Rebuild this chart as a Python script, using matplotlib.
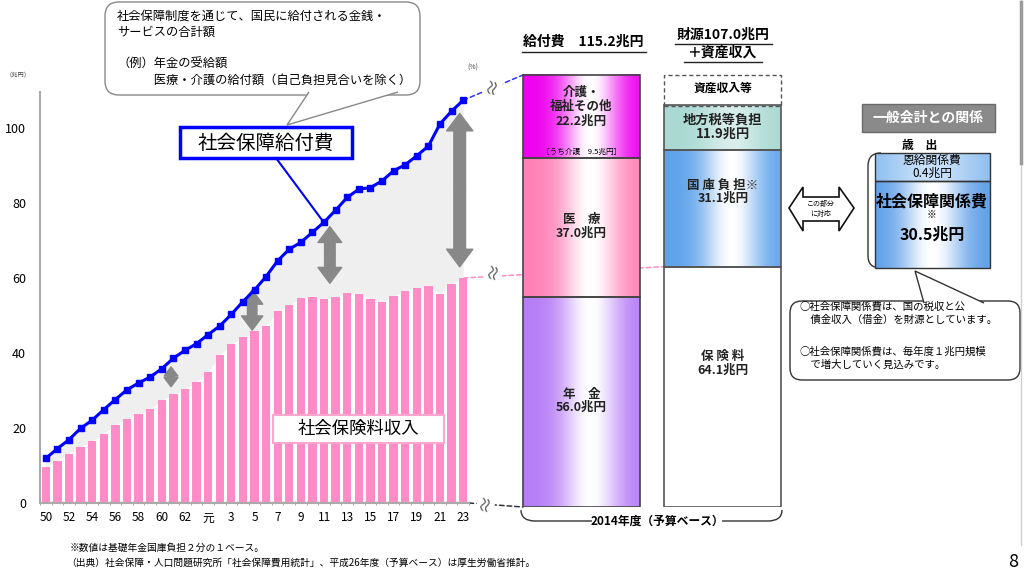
import numpy as np
import matplotlib
matplotlib.use("Agg")
import matplotlib.pyplot as plt
import matplotlib.colors as mcolors
from matplotlib.patches import Rectangle, FancyBboxPatch, Polygon, PathPatch, ConnectionPatch
from matplotlib.path import Path

plt.rcParams['font.family'] = ['Noto Sans CJK JP', 'DejaVu Sans']

# fiscal years: Showa 50..63, Heisei 元..23
years = [str(y) for y in range(50, 64)] + ['元'] + [str(y) for y in range(2, 24)]
# social security benefits (trillion yen)
benefits = [11.9, 14.5, 16.9, 19.9, 22.1, 24.9, 27.6, 30.2, 32.0, 33.6,
            35.8, 38.6, 40.7, 42.5, 44.9, 47.2, 50.3, 53.7, 56.8, 60.4,
            64.6, 67.7, 69.5, 72.2, 74.9, 78.1, 81.5, 83.7, 84.1, 85.9,
            88.6, 90.2, 92.6, 95.2, 101.1, 104.5, 107.4]
# social insurance premium income
premiums = [9.5, 11.3, 13.2, 15.0, 16.5, 18.5, 20.9, 22.4, 23.7, 25.0,
            27.4, 29.1, 30.3, 32.2, 34.9, 39.4, 42.3, 44.2, 45.8, 47.3,
            51.1, 52.7, 54.7, 54.9, 54.3, 54.9, 56.0, 55.7, 54.5, 53.7,
            55.2, 56.6, 57.3, 57.8, 55.8, 58.3, 60.0]
# gap arrows (x index, top, bottom, size)
arrow_x = [10.8, 17.8, 24.5, 35.7]
arrow_top = [36.3, 56.8, 73.7, 103.9]
arrow_bot = [31.0, 46.1, 58.6, 63.0]
arrow_size = [11, 17, 19, 21]

# 2014 budget
benefit_parts = ['年　金\n56.0兆円', '医　療\n37.0兆円', '介護・\n福祉その他\n22.2兆円']
benefit_values = [56.0, 37.0, 22.2]
benefit_colors = ['#b67cf6', '#ff80b6', '#ee00ee']
revenue_parts = ['保 険 料\n64.1兆円', '国 庫 負 担※\n31.1兆円', '地方税等負担\n11.9兆円']
revenue_values = [64.1, 31.1, 11.9]
revenue_colors = ['#ffffff', '#5ea2ea', '#a9d9d2']
benefit_total = 115.2
revenue_total = 107.0

W, H = 1024, 572
fig = plt.figure(figsize=(W / 100, H / 100), dpi=100)


def px_axes(x0, y0, x1, y1):
    return fig.add_axes([x0 / W, 1 - y1 / H, (x1 - x0) / W, (y1 - y0) / H])


def gradient(axis, x0, x1, y0, y1, edge, peak=0.58, spread=0.25, strength=1.0, zorder=2):
    t = np.linspace(0, 1, 256)
    f = np.exp(-((t - peak) / spread) ** 2) * strength
    c = np.array(mcolors.to_rgb(edge))
    img = c[None, :] * (1 - f[:, None]) + f[:, None]
    axis.imshow(img[None, :, :], extent=(x0, x1, y0, y1), aspect='auto',
                interpolation='bilinear', zorder=zorder)


# ---- left chart
ax = px_axes(40, 92, 469, 503)
ax.patch.set_visible(False)
x = np.arange(len(years))
ax.fill_between(x, premiums, benefits, color='#efefef', lw=0, zorder=1)
ax.bar(x, premiums, width=0.72, color='#ff8cc6', zorder=2)
ax.plot(x, benefits, color='#0000ff', lw=2.2, marker='s', ms=4, zorder=4)
for xa, yt, yb, s in zip(arrow_x, arrow_top, arrow_bot, arrow_size):
    mid = (yt + yb) / 2
    for end in (yt, yb):
        ax.annotate('', xy=(xa, end), xytext=(xa, mid),
                    arrowprops=dict(arrowstyle='simple,head_length=0.6,head_width=0.9,tail_width=0.4',
                                    color='#888888', mutation_scale=s, shrinkA=0, shrinkB=0), zorder=3)
ax.set_xlim(-0.5, len(years) - 0.5)
ax.set_ylim(0, 109.6)
ax.set_yticks(range(0, 101, 20))
ax.set_xticks(x[::2])
ax.set_xticklabels(years[::2])
ax.set_xticks(np.arange(-0.5, len(years), 1), minor=True)
ax.tick_params(axis='y', length=0, labelsize=9, pad=10)
ax.tick_params(axis='x', which='major', length=0, labelsize=8.5, pad=6)
ax.tick_params(axis='x', which='minor', length=3, direction='inout', color='#999999')
for s in ('top', 'right'):
    ax.spines[s].set_visible(False)
for s in ('left', 'bottom'):
    ax.spines[s].set_color('#aaaaaa')
    ax.spines[s].set_linewidth(1.5)

# ---- middle stacked bars (same vertical scale)
axm = px_axes(510, 60, 800, 507)
axm.patch.set_visible(False)
axm.axis('off')
bx = [0.0, 1.209]
bottom = 0
for v, c in zip(benefit_values, benefit_colors):
    gradient(axm, bx[0] - 0.5, bx[0] + 0.5, bottom, bottom + v, c)
    axm.bar(bx[0], v, bottom=bottom, width=1.0, fill=False, edgecolor='#444444', lw=1.2, zorder=3)
    bottom += v
bottom = 0
for v, c in zip(revenue_values, revenue_colors):
    if c != '#ffffff':
        gradient(axm, bx[1] - 0.5, bx[1] + 0.5, bottom, bottom + v, c,
                 strength=0.55 if c == '#a9d9d2' else 1.0)
    axm.bar(bx[1], v, bottom=bottom, width=1.0, fill=False, edgecolor='#555555', lw=1.2, zorder=3)
    bottom += v
axm.bar(bx[1], benefit_total - revenue_total, bottom=revenue_total, width=1.0, fill=False,
        edgecolor='#555555', lw=1.0, ls=(0, (3, 2)), zorder=3)

# labels inside bars
lab = dict(ha='center', va='center', fontsize=9, linespacing=1.0, weight='bold', color='#222222', zorder=5)
axm.text(bx[0], 28.3, benefit_parts[0], **lab)
axm.text(bx[0], 74.8, benefit_parts[1], **lab)
axm.text(bx[0], 106.8, benefit_parts[2], **{**lab, 'linespacing': 1.15})
axm.text(bx[0], 94.6, '［うち介護　9.5兆円］', ha='center', va='center', fontsize=5.5, zorder=5)
axm.text(bx[1], 38.3, revenue_parts[0], **lab)
axm.text(bx[1], 84.2, revenue_parts[1], **lab)
axm.text(bx[1], 101.4, revenue_parts[2], **{**lab, 'fontsize': 9.5})
axm.text(bx[1], 111.6, '資産収入等', ha='center', va='center', fontsize=8.5, weight='bold', zorder=5)
axm.set_xlim(-0.611, 1.868)
axm.set_ylim(0, (507 - 60) / 3.75)

# connector dashed lines
for xyA, xyB, col in [((len(years) - 1, benefits[-1]), (-0.5, benefit_total), '#3333ff'),
                      ((len(years) - 1, premiums[-1]), (bx[1] - 0.5, revenue_values[0]), '#ff8cc6'),
                      ((len(years) - 0.5, 0), (-0.5, 0), '#333333')]:
    con = ConnectionPatch(xyA=xyA, coordsA=ax.transData, xyB=xyB, coordsB=axm.transData,
                          color=col, lw=1.1, ls=(0, (3, 2)), zorder=-1)
    fig.add_artist(con)

# ---- overlay in pixel coordinates
ov = fig.add_axes([0, 0, 1, 1], zorder=5)
ov.patch.set_visible(False)
ov.axis('off')

# break marks
for bx_, by_ in [(493, 86), (494, 271), (486, 503)]:
    ov.text(bx_, by_, '≈', rotation=75, ha='center', va='center', fontsize=13, color='#555555',
            bbox=dict(boxstyle='square,pad=0', fc='white', ec='none'))

ov.text(18, 74, '（兆円）', ha='center', va='center', fontsize=4.5, color='#444444')
ov.text(473, 68, '(%)', ha='center', va='center', fontsize=5, color='#444444')

# top callout
ov.add_patch(FancyBboxPatch((105, 2), 315, 93, boxstyle='round,pad=0,rounding_size=14',
                            fc='white', ec='#888888', lw=1))
ov.add_patch(Polygon([(309, 92), (287, 125), (398, 92)], closed=False, fc='white', ec='#888888', lw=1))
ov.text(117, 10, '社会保障制度を通じて、国民に給付される金銭・\nサービスの合計額\n\n（例）年金の受給額\n　　　医療・介護の給付額（自己負担見合いを除く）',
        ha='left', va='top', fontsize=8.8, linespacing=1.3)

# series labels
ov.plot([276, 322], [158, 220], color='#0000ff', lw=1.5)
ov.add_patch(Rectangle((180, 127), 172, 31, fc='white', ec='#0000ff', lw=2.5))
ov.text(266, 143, '社会保障給付費', ha='center', va='center', fontsize=14)
ov.add_patch(Rectangle((273, 415), 171, 28, fc='white', ec='#ffa6d0', lw=1.5))
ov.text(358, 429, '社会保険料収入', ha='center', va='center', fontsize=12.5)

# headers
ov.text(583, 42, '給付費　115.2兆円', ha='center', va='center', fontsize=10, weight='bold')
ov.plot([522, 646], [52, 52], color='#222222', lw=1)
ov.text(723, 35, '財源107.0兆円', ha='center', va='center', fontsize=10, weight='bold')
ov.plot([675, 772], [44, 44], color='#222222', lw=1)
ov.text(723, 53, '＋資産収入', ha='center', va='center', fontsize=10, weight='bold')
ov.plot([684, 762], [62, 62], color='#222222', lw=1)

# brace under budget bars
brace = Path([(521, 510), (521, 521), (535, 521), (592, 521),
              (722, 521), (768, 521), (782, 521), (782, 510)],
             [Path.MOVETO, Path.CURVE3, Path.CURVE3, Path.LINETO,
              Path.MOVETO, Path.LINETO, Path.CURVE3, Path.CURVE3])
ov.add_patch(PathPatch(brace, fc='none', ec='#333333', lw=1))
ov.text(657, 521, '2014年度（予算ベース）', ha='center', va='center', fontsize=8.5, weight='bold')

# hollow double arrow
ov.add_patch(Polygon([(789, 208), (803, 187), (803, 197), (839, 197), (839, 187), (854, 208),
                      (839, 231), (839, 221), (803, 221), (803, 231)], closed=True,
                     fc='white', ec='#111111', lw=1.2))
ov.text(821, 209, 'この部分\nに対応', ha='center', va='center', fontsize=5, linespacing=1.2)

# general account panel
ov.add_patch(Rectangle((862, 104), 133, 28, fc='#8a8a8a', ec='#6a6a6a', lw=1))
ov.text(928, 118, '一般会計との関係', ha='center', va='center', fontsize=10, weight='bold', color='white')
ov.text(920, 146, '歳　出', ha='center', va='center', fontsize=8.5, weight='bold')
gradient(ov, 875, 990, 153, 181, '#78b2ee', peak=0.5, spread=0.45, strength=0.6, zorder=4)
gradient(ov, 875, 990, 181, 268, '#5a9de8', peak=0.5, spread=0.28, zorder=4)
ov.add_patch(Rectangle((875, 153), 115, 28, fc='none', ec='#333333', lw=1, zorder=5))
ov.add_patch(Rectangle((875, 181), 115, 87, fc='none', ec='#333333', lw=1, zorder=5))
ov.text(932, 167, '恩給関係費\n0.4兆円', ha='center', va='center', fontsize=8.5, linespacing=1.0, zorder=6)
ov.text(932, 201, '社会保障関係費', ha='center', va='center', fontsize=11.5, weight='bold', zorder=6)
ov.text(932, 215, '※', ha='center', va='center', fontsize=7, zorder=6)
ov.text(932, 235, '30.5兆円', ha='center', va='center', fontsize=11.5, weight='bold', zorder=6)
bracket = Path([(881, 153), (868, 153), (868, 166), (868, 256), (868, 268), (881, 268)],
               [Path.MOVETO, Path.CURVE3, Path.CURVE3, Path.LINETO, Path.CURVE3, Path.CURVE3])
ov.add_patch(PathPatch(bracket, fc='none', ec='#333333', lw=1))

# bottom-right callout
ov.add_patch(FancyBboxPatch((790, 301), 230, 79, boxstyle='round,pad=0,rounding_size=12',
                            fc='white', ec='#333333', lw=1))
ov.add_patch(Polygon([(924, 303), (915, 271), (984, 303)], closed=False, fc='white', ec='#333333', lw=1))
ov.text(800, 313, '○社会保障関係費は、国の税収と公\n　債金収入（借金）を財源としています。',
        ha='left', va='center', fontsize=7.5, linespacing=1.35)
ov.text(800, 358, '○社会保障関係費は、毎年度１兆円規模\n　で増大していく見込みです。',
        ha='left', va='center', fontsize=7.5, linespacing=1.35)

# footnotes
ov.text(70, 548, '※数値は基礎年金国庫負担２分の１ベース。', ha='left', va='center', fontsize=7)
ov.text(66, 563, '（出典）社会保障・人口問題研究所「社会保障費用統計」、平成26年度（予算ベース）は厚生労働省推計。',
        ha='left', va='center', fontsize=7)
ov.text(1013, 562, '8', ha='center', va='center', fontsize=13)

# page scrollbar edge
ov.plot([1021, 1021], [0, 545], color='#d0d0d0', lw=1)
ov.plot([1021, 1021], [2, 163], color='#9a9a9a', lw=2.5)

ov.set_xlim(0, W)
ov.set_ylim(H, 0)

fig.savefig('out.png', dpi=100)
